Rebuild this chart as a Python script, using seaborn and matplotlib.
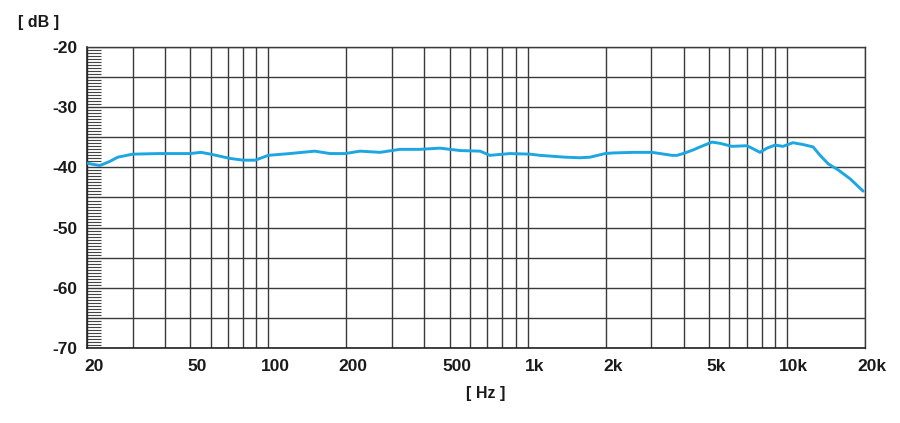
import numpy as np
import pandas as pd
import matplotlib
matplotlib.use("Agg")
import matplotlib.pyplot as plt
import matplotlib.transforms as mtransforms
from matplotlib.ticker import FixedLocator, MultipleLocator, NullFormatter
import seaborn as sns

# ---- data ----
freq_hz = [20, 22.4, 24.5, 26.3, 30, 38, 50, 55, 60, 71, 80, 89, 100, 121, 151,
           173, 198, 226, 270, 322, 385, 459, 549, 656, 716, 856, 1022, 1117,
           1394, 1592, 1742, 1990, 2137, 2553, 3020, 3243, 3606, 3768, 4046,
           4346, 4624, 5140, 5521, 6139, 7016, 7396, 7871, 8377, 8996, 9662,
           10545, 11535, 12612, 13427, 14416, 15740, 17532, 19680]
level_db = [-39.3, -39.7, -39.0, -38.3, -37.8, -37.7, -37.7, -37.5, -37.8, -38.5,
            -38.8, -38.8, -38.0, -37.7, -37.3, -37.7, -37.7, -37.3, -37.5, -37.0,
            -37.0, -36.8, -37.2, -37.3, -38.0, -37.7, -37.8, -38.0, -38.3, -38.4,
            -38.3, -37.7, -37.6, -37.5, -37.5, -37.7, -38.0, -38.0, -37.6, -37.1,
            -36.6, -35.8, -36.0, -36.5, -36.4, -36.9, -37.5, -36.8, -36.3, -36.5,
            -35.9, -36.2, -36.6, -38.0, -39.4, -40.4, -41.9, -43.95]

x_tick_values = [20, 50, 100, 200, 500, 1000, 2000, 5000, 10000, 20000]
x_tick_labels = ["20", "50", "100", "200", "500", "1k", "2k", "5k", "10k", "20k"]
y_label_values = [-20, -30, -40, -50, -60, -70]
x_unit = "[ Hz ]"
y_unit = "[ dB ]"

df = pd.DataFrame({"freq": freq_hz, "level": level_db})

sns.set_style("white")
plt.rcParams["font.family"] = ["Liberation Sans", "DejaVu Sans"]

fig = plt.figure(figsize=(9.0, 4.23), dpi=100)
ax = fig.add_axes([87 / 900, 1 - 348 / 423, (865 - 87) / 900, (348 - 47) / 423])

grid_col = "#3a3a3a"
sns.lineplot(data=df, x="freq", y="level", ax=ax, color="#1ca6e2",
             linewidth=2.1, zorder=3)

ax.set_xscale("log")
ax.set_xlim(20, 20000)
ax.set_ylim(-70, -20)

# vertical gridlines at every 1-2-...-9 step of each decade
grid_x = []
for dec in [10, 100, 1000, 10000]:
    for m in range(1, 10):
        v = dec * m
        if 20 <= v <= 20000:
            grid_x.append(v)
ax.xaxis.set_minor_locator(FixedLocator(grid_x))
ax.xaxis.set_minor_formatter(NullFormatter())
ax.set_xticks(x_tick_values)
ax.set_xticklabels(x_tick_labels)

# horizontal gridlines every 5 dB, labels every 10 dB
y_major = list(range(-70, -19, 5))
ax.set_yticks(y_major)
ax.set_yticklabels([str(v) if v in y_label_values else "" for v in y_major])
ax.yaxis.set_minor_locator(MultipleLocator(0.5))

ax.grid(True, which="both", axis="x", color=grid_col, linewidth=1.0)
ax.grid(True, which="major", axis="y", color=grid_col, linewidth=1.0)
ax.set_axisbelow(True)

ax.tick_params(axis="x", which="both", length=0, pad=8, labelsize=12.5)
ax.tick_params(axis="y", which="both", left=True, right=False, direction="in",
               length=10, width=0.8, color="#444444", pad=7, labelsize=12.5)
ax.tick_params(axis="y", which="major", length=0)

for lbl in ax.get_xticklabels() + ax.get_yticklabels():
    lbl.set_fontweight("bold")
    lbl.set_color("#1a1a1a")

offset = mtransforms.ScaledTranslation(7 / 100, 0, fig.dpi_scale_trans)
for lbl in ax.get_xticklabels():
    lbl.set_transform(lbl.get_transform() + offset)

for side in ["left", "bottom"]:
    ax.spines[side].set_color("#222222")
    ax.spines[side].set_linewidth(1.2)
for side in ["top", "right"]:
    ax.spines[side].set_color(grid_col)
    ax.spines[side].set_linewidth(1.0)

ax.set_xlabel("")
ax.set_ylabel("")

fig.text(18 / 900, 1 - 22 / 423, y_unit, fontsize=11.5, fontweight="bold",
         ha="left", va="center", color="#1a1a1a")
fig.text(486 / 900, 1 - 393 / 423, x_unit, fontsize=11.5, fontweight="bold",
         ha="center", va="center", color="#1a1a1a")

fig.savefig("out.png", dpi=100)
